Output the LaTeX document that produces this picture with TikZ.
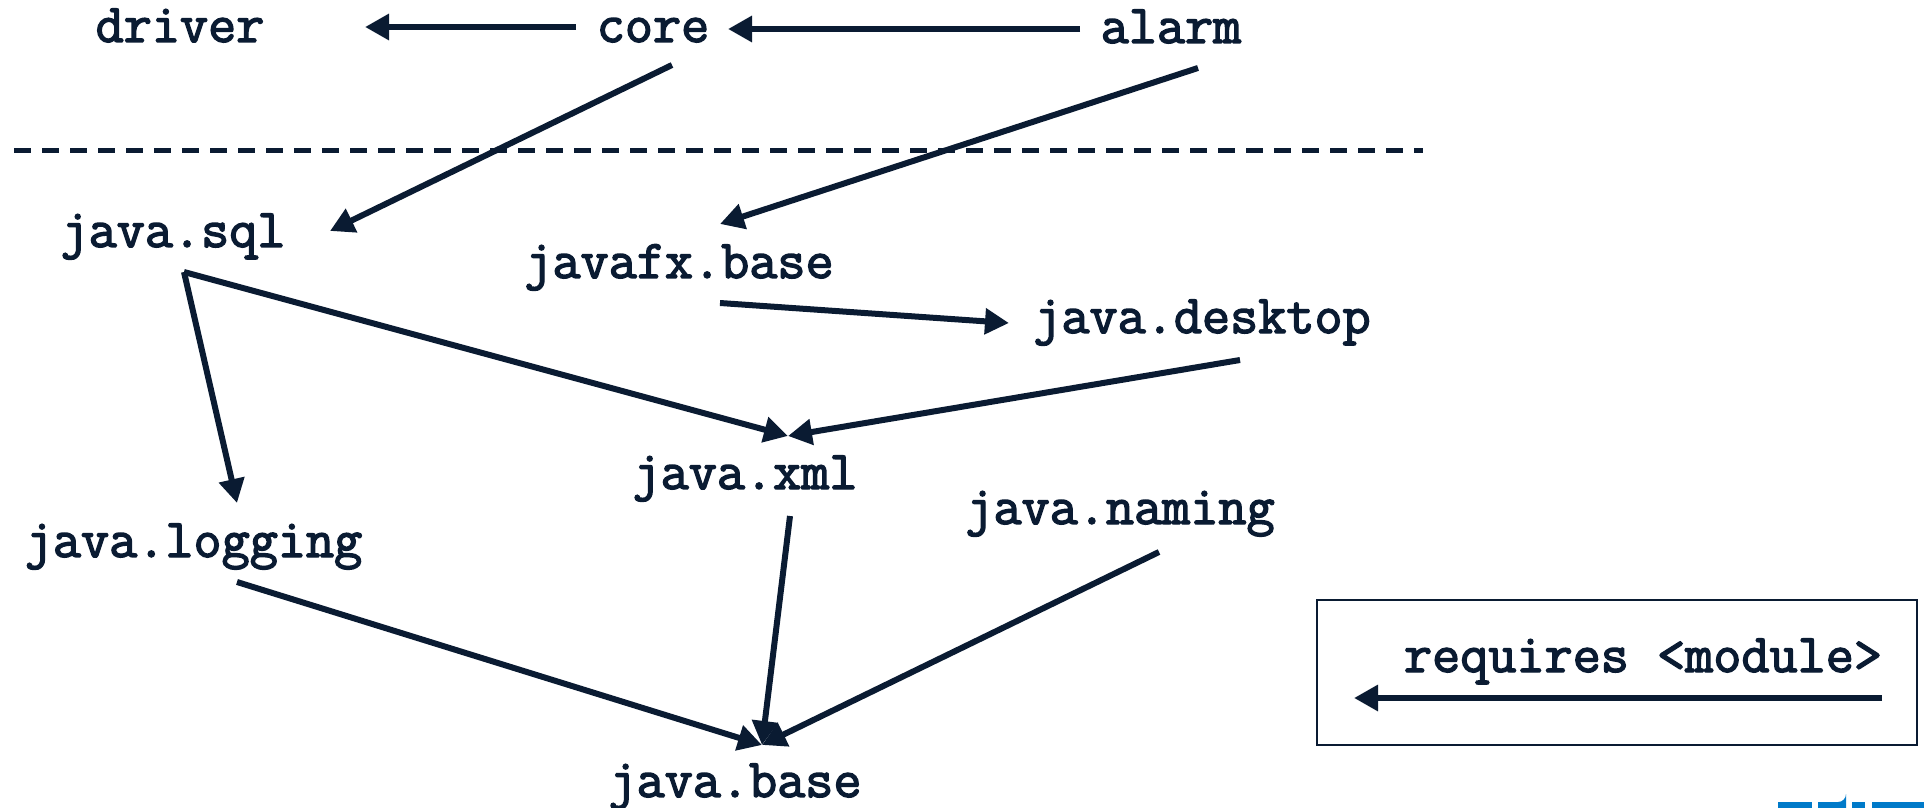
\documentclass[tikz,border=0pt]{standalone}
\usepackage{fontspec}
\newfontfamily\codefont{Latin Modern Mono}[AutoFakeBold=2.6]
\usetikzlibrary{arrows.meta}
\definecolor{ink}{RGB}{10,27,50}
\definecolor{logoblue}{RGB}{0,122,201}
\tikzset{
  x=0.5pt, y=-0.5pt,
  modname/.style={anchor=base, inner sep=0pt, text=ink,
    font=\fontsize{27.3pt}{30pt}\codefont\bfseries},
  req/.style={draw=ink, line width=3pt,
    -{Triangle[length=12pt, width=12.5pt]}},
}
\begin{document}
\begin{tikzpicture}
\useasboundingbox (0,0) rectangle (1924,808);

% module names
\node[modname] (driver)  at (180,42)  {driver};
\node[modname] (core)    at (653,42)  {core};
\node[modname] (alarm)   at (1171,43) {alarm};
\node[modname] (sql)     at (173,247) {java.sql};
\node[modname] (fxbase)  at (679,278) {javafx.base};
\node[modname] (desktop) at (1202,333) {java.desktop};
\node[modname] (xml)     at (745,489) {java.xml};
\node[modname] (logging) at (193.5,557) {java.logging};
\node[modname] (naming)  at (1120,524) {java.naming};
\node[modname] (jbase)   at (735,797) {java.base};

% separator
\draw[ink, line width=2.5pt, dash pattern=on 8.5pt off 5.5pt] (14,151) -- (1423,151);

% requires edges
\draw[req] ([shift={(-77,-15)}]core.base) -- ([shift={(185,-15)}]driver.base);
\draw[req] ([shift={(-91,-14)}]alarm.base) -- ([shift={(75,-13)}]core.base);
\draw[req] ([shift={(19,23)}]core.base) -- ([shift={(157,-16)}]sql.base);
\draw[req] ([shift={(27,25)}]alarm.base) -- ([shift={(41,-54)}]fxbase.base);
\draw[req] ([shift={(41,25)}]fxbase.base) -- ([shift={(-193,-10)}]desktop.base);
\draw[req] ([shift={(11,25)}]sql.base) -- ([shift={(43,-53)}]xml.base);
\draw[req] ([shift={(11,25)}]sql.base) -- ([shift={(43.5,-54)}]logging.base);
\draw[req] ([shift={(38,27)}]desktop.base) -- ([shift={(43,-53)}]xml.base);
\draw[req] ([shift={(45,27)}]xml.base) -- ([shift={(27,-52)}]jbase.base);
\draw[req] ([shift={(43.5,25)}]logging.base) -- ([shift={(27,-52)}]jbase.base);
\draw[req] ([shift={(39,28)}]naming.base) -- ([shift={(27,-52)}]jbase.base);

% legend
\node[draw=ink, line width=0.9pt, minimum width=300pt, minimum height=72.5pt,
      inner sep=0pt] (legendbox) at (1617,672.5) {};
\node[modname] (legendtxt) at (1643,672) {requires <module>};
\draw[req] ([shift={(239,26)}]legendtxt.base) -- ([shift={(-289,26)}]legendtxt.base);

% cropped logo fragment
\fill[logoblue] (1778,802) rectangle (1812,810);
\fill[logoblue] (1818,802) -- (1838,802) arc[start angle=90, end angle=0, radius=8] -- (1846,810) -- (1818,810) -- cycle;
\fill[logoblue] (1852,802) rectangle (1865,810);
\fill[logoblue] (1872,802) rectangle (1924,810);
\end{tikzpicture}
\end{document}
